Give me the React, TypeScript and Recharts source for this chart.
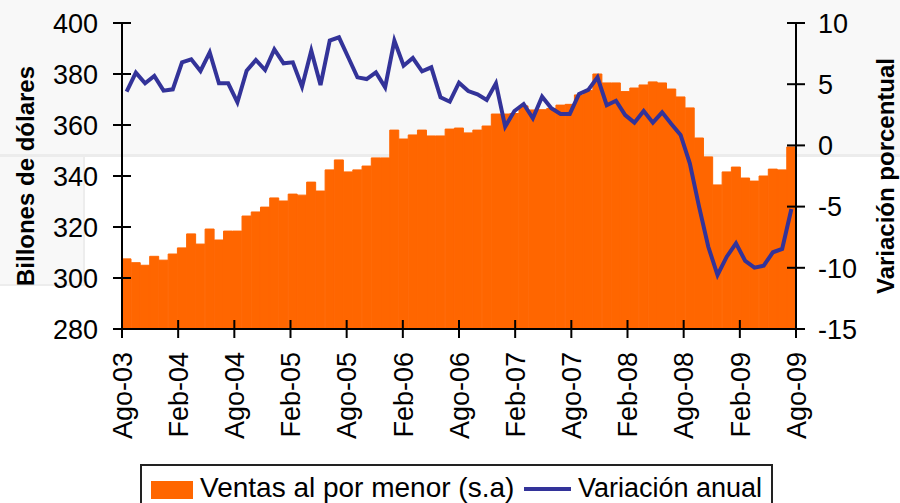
import React from "react";
import {
  ComposedChart,
  Bar,
  Line,
  XAxis,
  YAxis,
} from "recharts";

// meses: Ago-03 ... Ago-09 (73 observaciones mensuales)
const monthNames = ["Ene", "Feb", "Mar", "Abr", "May", "Jun", "Jul", "Ago", "Sep", "Oct", "Nov", "Dic"];
const categories: string[] = Array.from({ length: 73 }, (_, i) => {
  const m = (7 + i) % 12;
  const y = 3 + Math.floor((7 + i) / 12);
  return `${monthNames[m]}-${String(y).padStart(2, "0")}`;
});

// ventas al por menor, billones de dólares (s.a)
const ventas = [
  307.5, 306, 305, 308.5, 307, 309.4, 311.8, 317.3, 313.3, 319.2, 314.9, 318.4,
  318.4, 324.3, 325.9, 327.8, 331.4, 330.2, 332.9, 332.5, 337.6, 334.1, 342.4, 346.3,
  341.6, 342.4, 343.9, 347.1, 347.1, 358.0, 354.5, 356.1, 358.0, 355.7, 355.7, 358.4,
  358.8, 356.9, 358.0, 359.6, 364.3, 364.3, 364.5, 367.5, 365.9, 366.0, 366.5, 367.8,
  368.1, 371.8, 373.5, 380.0, 376.5, 376.5, 373.1, 374.5, 375.7, 376.9, 376.5, 374.1,
  371.0, 366.7, 354.9, 347.5, 336.5, 341.6, 343.5, 339.2, 338.0, 340.0, 342.7, 342.4,
  351.4,
];

// variación anual, %
const variacion = [
  4.4, 5.94, 5.07, 5.67, 4.47, 4.58, 6.79, 7.03, 6.08, 7.6, 5.07, 5.07,
  3.52, 6.1, 6.98, 6.16, 7.85, 6.71, 6.79, 4.8, 7.74, 4.93, 8.56, 8.83,
  7.2, 5.56, 5.42, 5.97, 4.75, 8.56, 6.51, 7.14, 6.05, 6.38, 3.93, 3.57,
  5.12, 4.44, 4.17, 3.71, 5.07, 1.53, 2.81, 3.38, 2.21, 3.98, 3.03, 2.57,
  2.57, 4.2, 4.53, 5.56, 3.28, 3.65, 2.48, 1.86, 2.81, 1.86, 2.7, 1.75,
  0.85, -1.46, -5.0, -8.28, -10.59, -9.09, -8.0, -9.44, -9.99, -9.83, -8.73, -8.46,
  -5.2,
];

const tickLabels = [
  "Ago-03", "Feb-04", "Ago-04", "Feb-05", "Ago-05", "Feb-06", "Ago-06",
  "Feb-07", "Ago-07", "Feb-08", "Ago-08", "Feb-09", "Ago-09",
];
const tickPositions = [0, 6, 12, 18, 24, 30, 36, 42, 48, 54, 60, 66, 72];
const leftTicks = [280, 300, 320, 340, 360, 380, 400];
const rightTicks = [-15, -10, -5, 0, 5, 10];

const ORANGE = "#FF6600";
const NAVY = "#333399";
const FONT = '"Liberation Sans", Arial, sans-serif';

const data = categories.map((mes, i) => ({
  mes,
  ventas: ventas[i],
  variacion: variacion[i],
}));

const YTick = (props: any) => {
  const { x, y, payload, side } = props;
  const left = side === "left";
  return (
    <g>
      <line x1={x - 9} x2={x + 9} y1={y} y2={y} stroke="#000" strokeWidth={2} />
      <text
        x={left ? x - 24 : x + 22}
        y={y}
        dy="0.36em"
        textAnchor={left ? "end" : "start"}
        fontSize={27}
        fontFamily={FONT}
        fill="#000"
      >
        {payload.value}
      </text>
    </g>
  );
};

const XTick = (props: any) => {
  const { x, y, payload, index } = props;
  return (
    <g>
      <line x1={x} x2={x} y1={y - 9} y2={y + 9} stroke="#000" strokeWidth={2} />
      <text
        transform={`translate(${x},${y + 23}) rotate(-90)`}
        dy="0.36em"
        textAnchor="end"
        fontSize={27}
        fontFamily={FONT}
        fill="#000"
      >
        {tickLabels[index] ?? payload.value}
      </text>
    </g>
  );
};

export default function App() {
  return (
    <div
      style={{
        position: "absolute",
        left: 0,
        top: 0,
        width: 900,
        height: 503,
        background: "#fff",
        overflow: "hidden",
        fontFamily: FONT,
      }}
    >
      {/* fondo gris claro de la captura original */}
      <div style={{ position: "absolute", left: 0, top: 0, width: 900, height: 154, background: "#f8f8f8" }} />
      <div style={{ position: "absolute", left: 0, top: 154, width: 900, height: 3, background: "#ececec" }} />
      <div style={{ position: "absolute", left: 0, top: 157, width: 83, height: 127, background: "#f8f8f8", borderRight: "2px solid #ededed", borderBottom: "2px solid #ededed" }} />

      <div style={{ position: "absolute", left: 0, top: 0 }}>
        <ComposedChart
          width={900}
          height={503}
          data={data}
          margin={{ top: 23, right: 0, bottom: 0, left: 0 }}
          barCategoryGap={0}
          barGap={0}
        >
          <XAxis
            xAxisId="t"
            type="number"
            domain={[0, 73]}
            ticks={tickPositions}
            allowDataOverflow
            height={174}
            interval={0}
            tickLine={false}
            tickSize={0}
            tickMargin={0}
            axisLine={{ stroke: "#000", strokeWidth: 2 }}
            tick={<XTick />}
          />
          <XAxis xAxisId="c" dataKey="mes" hide height={0} />
          <YAxis
            yAxisId="left"
            orientation="left"
            width={122}
            domain={[280, 400]}
            ticks={leftTicks}
            allowDataOverflow
            tickLine={false}
            tickSize={0}
            tickMargin={0}
            axisLine={{ stroke: "#000", strokeWidth: 2 }}
            tick={<YTick side="left" />}
            label={{
              value: "Billones de dólares",
              angle: -90,
              position: "insideLeft",
              offset: 25,
              style: { textAnchor: "middle", fontSize: 24, fontWeight: 700, fontFamily: FONT, fill: "#000" },
            }}
          />
          <YAxis
            yAxisId="right"
            orientation="right"
            width={104}
            domain={[-15, 10]}
            ticks={rightTicks}
            allowDataOverflow
            tickLine={false}
            tickSize={0}
            tickMargin={0}
            axisLine={{ stroke: "#000", strokeWidth: 2 }}
            tick={<YTick side="right" />}
            label={{
              value: "Variación porcentual",
              angle: -90,
              position: "insideRight",
              offset: 15,
              style: { textAnchor: "middle", fontSize: 24, fontWeight: 700, fontFamily: FONT, fill: "#000" },
            }}
          />
          <Bar
            xAxisId="c"
            yAxisId="left"
            dataKey="ventas"
            fill={ORANGE}
            stroke={ORANGE}
            strokeWidth={1}
            isAnimationActive={false}
          />
          <Line
            xAxisId="c"
            yAxisId="right"
            dataKey="variacion"
            type="linear"
            stroke={NAVY}
            strokeWidth={4}
            dot={false}
            activeDot={false}
            isAnimationActive={false}
          />
        </ComposedChart>
      </div>

      {/* leyenda */}
      <div
        style={{
          position: "absolute",
          left: 140,
          top: 464,
          width: 633,
          height: 60,
          border: "2px solid #222",
          background: "#fff",
          boxSizing: "border-box",
        }}
      >
        <div style={{ position: "absolute", left: 9, top: 15, width: 42, height: 18, background: ORANGE }} />
        <div style={{ position: "absolute", left: 58, top: 5, fontSize: 28, lineHeight: "34px", color: "#000", whiteSpace: "nowrap" }}>
          Ventas al por menor (s.a)
        </div>
        <div style={{ position: "absolute", left: 382, top: 21, width: 47, height: 4, background: NAVY }} />
        <div style={{ position: "absolute", left: 436, top: 5, fontSize: 27, lineHeight: "34px", color: "#000", whiteSpace: "nowrap" }}>
          Variación anual
        </div>
      </div>
    </div>
  );
}
